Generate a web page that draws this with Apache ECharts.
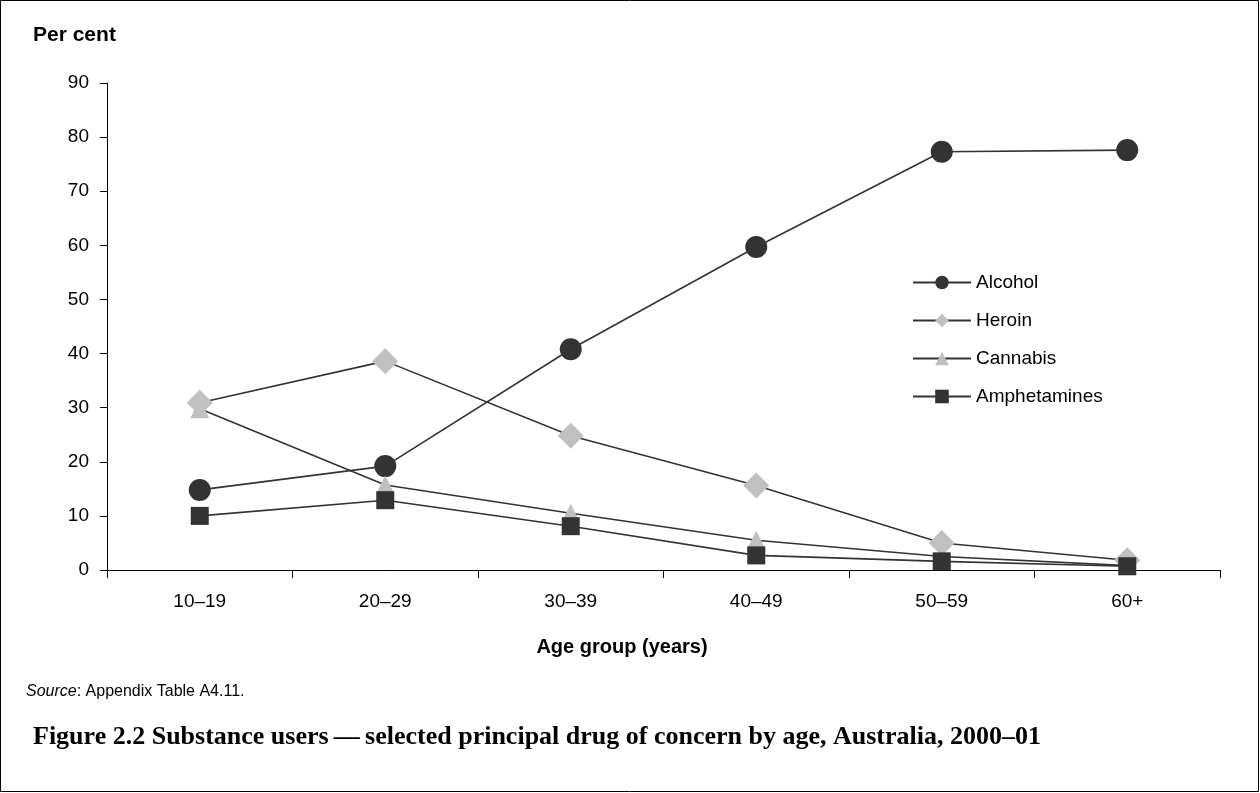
<!DOCTYPE html>
<html><head><meta charset="utf-8">
<script src="https://cdn.jsdelivr.net/npm/echarts@6/dist/echarts.min.js"></script>
<style>html,body{margin:0;padding:0;background:#fff}#c{width:1260px;height:793px}</style>
</head><body><div id="c"></div>
<script>
const categories = ['10–19','20–29','30–39','40–49','50–59','60+'];
const alcohol = [14.8, 19.2, 40.8, 59.7, 77.3, 77.6];
const heroin = [30.9, 38.6, 24.8, 15.6, 5.0, 1.8];
const cannabis = [29.8, 15.7, 10.5, 5.5, 2.5, 0.8];
const amphetamines = [10.0, 12.9, 8.1, 2.7, 1.6, 0.7];
const yTicks = [0,10,20,30,40,50,60,70,80,90];

const dark = '#333333', light = '#c0c0c0';
const font = 'Liberation Sans, Arial, sans-serif';
function mk(name, data, symbol, size, color){
  return {name, type:'line', data, symbol, symbolSize:size, showAllSymbol:true,
    lineStyle:{color:dark, width:1.6}, itemStyle:{color, borderWidth:0}, emphasis:{disabled:true}, animation:false};
}
const chart = echarts.init(document.getElementById('c'), null, {renderer:'canvas'});
chart.setOption({
  animation:false,
  grid:{left:107, right:40, top:83, bottom:223},
  xAxis:{type:'category', data:categories, boundaryGap:true,
    axisLine:{lineStyle:{color:'#000', width:1}},
    axisTick:{show:true, length:8, lineStyle:{color:'#000'}},
    axisLabel:{color:'#000', fontSize:19, fontFamily:font, margin:22}},
  yAxis:{type:'value', min:0, max:90, interval:10,
    axisLine:{show:true, lineStyle:{color:'#000'}},
    axisTick:{show:true, length:7, lineStyle:{color:'#000'}},
    splitLine:{show:false},
    axisLabel:{color:'#000', fontSize:19, fontFamily:font, margin:18,
      formatter:v=>yTicks.includes(v)?String(v):''}},
  legend:{orient:'vertical', left:907, top:268, itemGap:19, itemWidth:58, itemHeight:17,
    textStyle:{color:'#000', fontSize:19, fontFamily:font},
    data:['Alcohol','Heroin','Cannabis','Amphetamines']},
  series:[
    mk('Alcohol', alcohol, 'circle', 22, dark),
    mk('Heroin', heroin, 'diamond', 26, light),
    mk('Cannabis', cannabis, 'triangle', 19, light),
    mk('Amphetamines', amphetamines, 'rect', 18, dark)
  ],
  graphic:[
    {type:'rect', shape:{x:0.5,y:0.5,width:1258,height:791}, style:{fill:'none', stroke:'#000', lineWidth:1}, silent:true},
    {type:'text', x:33, y:35, style:{text:'Per cent', fill:'#000', font:'bold 21px '+font, verticalAlign:'middle'}},
    {type:'text', x:622, y:647, style:{text:'Age group (years)', fill:'#000', font:'bold 20px '+font, align:'center', verticalAlign:'middle'}},
    {type:'text', x:26, y:692, style:{verticalAlign:'middle', rich:{i:{fontStyle:'italic', fontSize:16, fontFamily:font, fill:'#000'}, n:{fontSize:16, fontFamily:font, fill:'#000'}}, text:'{i|Source}{n|: Appendix Table A4.11.}'}},
    {type:'text', x:33, y:737, style:{text:'Figure 2.2 Substance users\u2009—\u2009selected principal drug of concern by age, Australia, 2000–01', fill:'#000', font:'bold 26px "Liberation Serif", serif', verticalAlign:'middle'}}
  ]
});
</script></body></html>
